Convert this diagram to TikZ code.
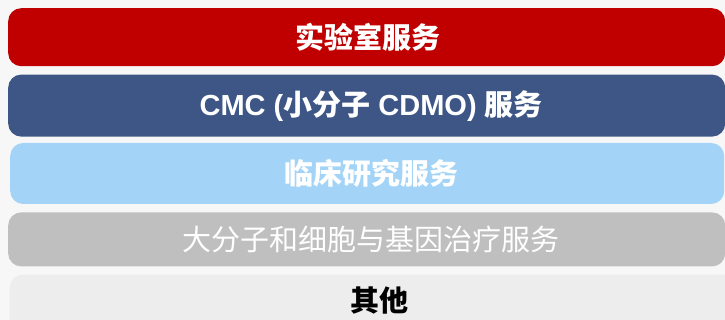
\documentclass[tikz,border=0pt]{standalone}
\usepackage{fontspec}
\setmainfont{Liberation Sans}
\newfontfamily\cjk{Noto Sans CJK SC}
\usepackage{tikz}
\usetikzlibrary{positioning}
\definecolor{pagebg}{HTML}{F7F7F7}
\definecolor{labred}{HTML}{C00000}
\definecolor{cmcblue}{HTML}{3E5686}
\definecolor{clinblue}{HTML}{A3D4F7}
\definecolor{biogray}{HTML}{BFBFBF}
\definecolor{othergray}{HTML}{EDEDED}
\tikzstyle{bar} = [rectangle, rounded corners=13pt, inner sep=0pt, minimum width=717pt]
\tikzstyle{bartext} = [text=white, font=\cjk\bfseries\fontsize{29}{34}\selectfont]

\begin{document}
\begin{tikzpicture}[x=1pt,y=-1pt]
    \clip (0,0) rectangle (725,320);
    \fill [pagebg] (0,0) rectangle (725,320);

    \node [bar, fill=labred, minimum height=58pt, anchor=north west] (lab) at (8,8) {};
    \node [bar, fill=cmcblue, minimum height=62pt, below=8pt of lab.south west, anchor=north west] (cmc) {};
    \node [bar, fill=clinblue, minimum height=61pt, minimum width=714pt, below=6pt of cmc.south west, anchor=north west, xshift=2pt] (clin) {};
    \node [bar, fill=biogray, minimum height=54pt, below=8pt of clin.south west, anchor=north west, xshift=-2pt] (bio) {};
    \node [bar, fill=othergray, minimum height=70pt, minimum width=730pt, below=8pt of bio.south west, anchor=north west, xshift=1.5pt] (other) {}; % runs off the page

    % texts
    \node [bartext] at ([xshift=1.5pt]lab.center) (labtext) {实验室服务};
    \node [bartext] at ([xshift=4.5pt]cmc.center) (cmctext) {{\rmfamily CMC (}小分子{\rmfamily{} CDMO) }服务};
    \node [bartext] at ([xshift=4.5pt]clin.center) (clintext) {临床研究服务};
    \node [bartext, font=\cjk\fontsize{29}{34}\selectfont] at ([xshift=4.5pt]bio.center) (biotext) {大分子和细胞与基因治疗服务};
    \node [bartext, text=black] at ([xshift=4.5pt,yshift=-26pt]other.north) (othertext) {其他};
\end{tikzpicture}
\end{document}
